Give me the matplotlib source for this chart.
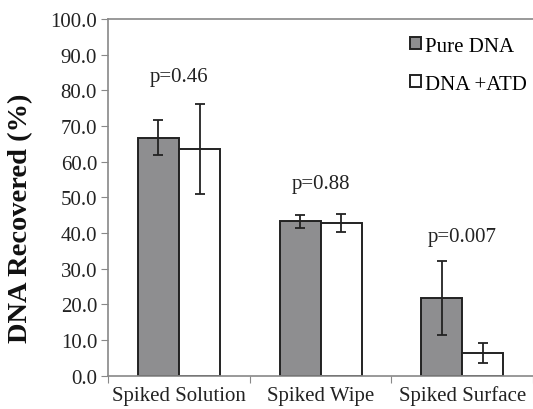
import matplotlib.pyplot as plt
import numpy as np

categories = ['Spiked Solution', 'Spiked Wipe', 'Spiked Surface']
pure_dna = [66.8, 43.3, 21.8]
pure_err = [5.0, 1.8, 10.3]
dna_atd = [63.6, 42.9, 6.4]
atd_err = [12.6, 2.5, 2.7]
p_labels = ['p=0.46', 'p=0.88', 'p=0.007']
p_y = [84, 54, 39]

plt.rcParams['font.family'] = ['Liberation Serif', 'DejaVu Serif']

fig = plt.figure(figsize=(5.33, 4.10), dpi=100)
ax = fig.add_axes([0.203, 0.081, 0.797, 0.870])

x = np.arange(len(categories))
w = 0.29
ekw = dict(ecolor='#222222', elinewidth=1.3, capsize=3.5, capthick=1.3)
ax.bar(x - w / 2, pure_dna, w, color='#8e8e90', edgecolor='#222222', linewidth=1.4,
       yerr=pure_err, error_kw=ekw, label='Pure DNA')
ax.bar(x + w / 2, dna_atd, w, color='white', edgecolor='#222222', linewidth=1.4,
       yerr=atd_err, error_kw=ekw, label='DNA +ATD')

for i, t in enumerate(p_labels):
    ax.text(x[i], p_y[i], t, ha='center', va='center', fontsize=15, color='#222222')

ax.set_xlim(-0.5, 2.5)
ax.set_ylim(0, 100)
ax.set_yticks(np.arange(0, 101, 10))
ax.set_yticklabels([f'{v:.1f}' for v in np.arange(0, 101, 10)], fontsize=15, color='#222222')
ax.set_xticks([-0.5, 0.5, 1.5, 2.5])
ax.set_xticklabels([])
ax.set_xticks(x, minor=True)
ax.set_xticklabels(categories, minor=True, fontsize=15, color='#222222')
ax.tick_params(axis='x', which='minor', length=0, pad=7)
ax.tick_params(axis='x', which='major', length=5, direction='out', color='#888888')
ax.tick_params(axis='y', length=5, direction='out', color='#888888', pad=3)
ax.set_ylabel('DNA Recovered (%)', fontsize=20.5, fontweight='bold', color='#111111')
ax.yaxis.set_label_coords(-0.176, 0.445)

for s in ['left', 'bottom', 'top']:
    ax.spines[s].set_color('#888888')
    ax.spines[s].set_linewidth(1.2)
ax.spines['right'].set_visible(False)

ax.legend(loc='upper right', frameon=False, fontsize=15, handlelength=0.5, handleheight=0.5,
          handletextpad=0.2, labelspacing=0.9, borderaxespad=0.0, borderpad=0.3,
          bbox_to_anchor=(1.0, 0.968))

fig.savefig('out.png', dpi=100)
